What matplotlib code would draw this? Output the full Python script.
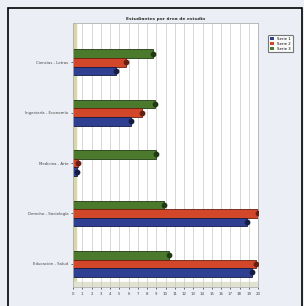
"""
Horizontal grouped bar chart, three series per category
(old spreadsheet style, 3D-ish bars)
"""
import numpy as np
from matplotlib import pyplot as plt
from matplotlib.patches import Rectangle

# data (top to bottom)
categories = ['Ciencias - Letras', 'Ingeniería - Economía', 'Medicina - Arte',
              'Derecho - Sociología', 'Educación - Salud']
serie_a = [4.6, 6.3, 0.4, 18.8, 19.3]   # blue
serie_b = [5.7, 7.5, 0.5, 20.0, 19.8]   # red
serie_c = [8.6, 8.9, 9.0, 9.8, 10.4]    # green
series_names = ['Serie 1', 'Serie 2', 'Serie 3']
title = 'Estudiantes por área de estudio'

colors = ['#2f3f92', '#d2462a', '#4b7a2c']
edges = ['#141c45', '#6a1e10', '#203a12']

fig = plt.figure(figsize=(3.04, 3.06), dpi=100)
fig.patch.set_facecolor('#eceef5')
# outer frame
fig.patches.append(Rectangle((8 / 304, -0.01), 294 / 304, 1 - 8 / 306 + 0.01,
                             transform=fig.transFigure, fill=False,
                             edgecolor='black', linewidth=1.2))

ax = fig.add_axes([73 / 304, 1 - 287 / 306, 185 / 304, 264 / 306])
ax.set_facecolor('white')

y = np.arange(len(categories))
h = 0.17
for vals, off, c, e in zip([serie_c, serie_b, serie_a], [-h, 0, h],
                           colors[::-1], edges[::-1]):
    ax.barh(y + off, vals, height=h, color=c, edgecolor=e, linewidth=0.6)
    # dark end caps (3D look)
    ax.scatter(vals, y + off, s=10, color=e, zorder=3, marker='o')

ax.set_xlim(0, 20)
ax.set_ylim(4.46, -0.78)
ax.set_xticks(np.arange(0, 21, 1))
ax.set_xticklabels([str(v) for v in range(21)], fontsize=2.8, color='#444444')
ax.set_yticks(y)
ax.set_yticklabels(categories, fontsize=2.8, color='#444444')
ax.tick_params(length=1.5, width=0.4, pad=2)
ax.xaxis.grid(True, color='#c8c8c8', linewidth=0.5)
ax.set_axisbelow(True)
for s in ax.spines.values():
    s.set_color('#b0b0b0')
    s.set_linewidth(0.6)

# side wall and floor
ax.axvspan(0, 0.3, color='#d9d7a8', zorder=0.5)
ax.axhspan(4.46, 4.36, color='#e2e2d0', zorder=0.5)

ax.set_title(title, fontsize=3.2, fontweight='bold', color='#333333', pad=2)

# legend box on the right
leg = fig.legend([Rectangle((0, 0), 1, 1, fc=c) for c in colors], series_names,
                 loc='upper left', bbox_to_anchor=(266 / 304, 1 - 33 / 306),
                 fontsize=2.8, frameon=True, handlelength=1.2, handleheight=0.8,
                 borderpad=0.4, labelspacing=0.3)
leg.get_frame().set_edgecolor('#555555')
leg.get_frame().set_linewidth(0.8)

plt.savefig('out.png', dpi=100, facecolor=fig.get_facecolor())
